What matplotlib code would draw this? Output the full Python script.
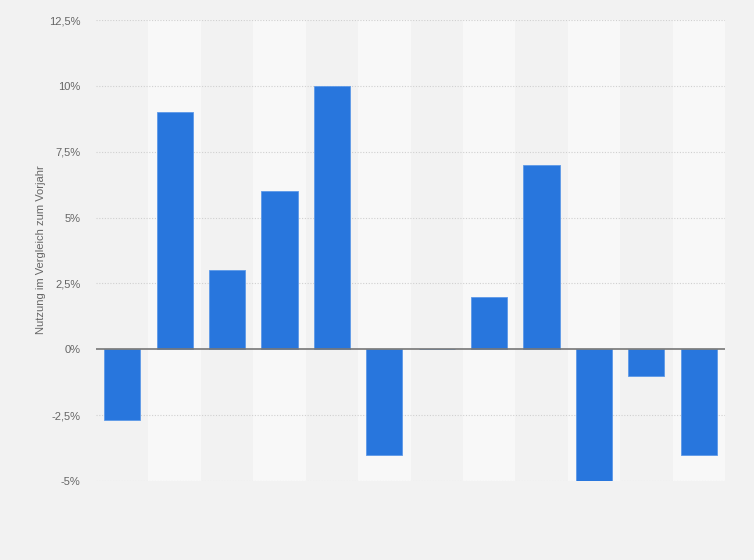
import matplotlib.pyplot as plt
import numpy as np

plt.rcParams['font.family'] = ['Liberation Sans', 'DejaVu Sans']

# Werte
categories = ['1', '2', '3', '4', '5', '6', '7', '8', '9', '10', '11', '12']
values = [-2.7, 9, 3, 6, 10, -4, 0, 2, 7, -5, -1, -4]
yticks = [-5, -2.5, 0, 2.5, 5, 7.5, 10, 12.5]
ytick_labels = ['-5%', '-2,5%', '0%', '2,5%', '5%', '7,5%', '10%', '12,5%']

fig = plt.figure(figsize=(7.54, 5.6), dpi=100)
fig.patch.set_facecolor('#f2f2f2')
ax = fig.add_axes([96 / 754, 1 - 481 / 560, (725 - 96) / 754, (481 - 20) / 560])
ax.set_facecolor('#f2f2f2')

x = np.arange(len(categories))

# alternierende Hintergrundstreifen
for i in x:
    if i % 2 == 1:
        ax.axvspan(i - 0.5, i + 0.5, color='#f8f8f8', zorder=0, lw=0)

for y in yticks:
    if y != 0:
        ax.axhline(y, color='#d0d0d0', lw=0.8, ls=(0, (1, 1.5)), zorder=1)

ax.bar(x, values, width=0.69, color='#2876dd', edgecolor='#5d99e8', lw=0.6, zorder=2)
ax.axhline(0, color='#777777', lw=1.2, zorder=3)

ax.set_xlim(-0.5, len(categories) - 0.5)
ax.set_ylim(-5, 12.5)
ax.set_yticks(yticks)
ax.set_yticklabels(ytick_labels, color='#666666', fontsize=8)
ax.set_xticks([])
ax.tick_params(axis='y', length=0, pad=11)
for s in ax.spines.values():
    s.set_visible(False)

fig.text(41 / 754, 1 - 250 / 560, 'Nutzung im Vergleich zum Vorjahr', rotation=90,
         ha='center', va='center', color='#666666', fontsize=8)

fig.savefig('out.png', dpi=100, facecolor=fig.get_facecolor())
